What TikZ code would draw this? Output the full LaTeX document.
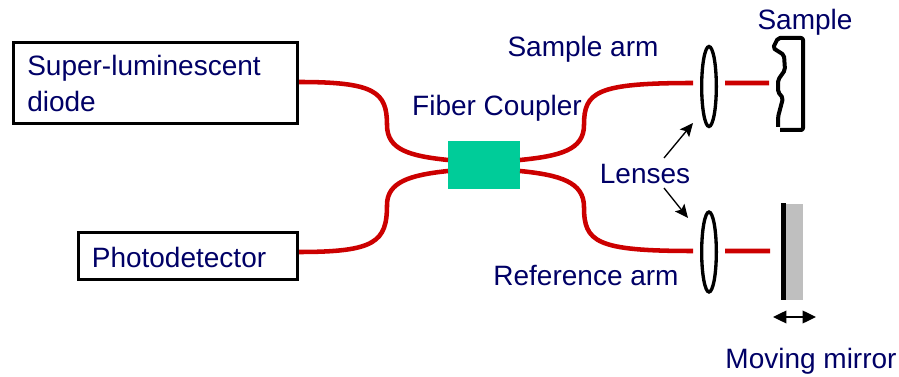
\documentclass[tikz,border=0pt]{standalone}
\usepackage{fontspec}
\setmainfont{Liberation Sans}
\usetikzlibrary{arrows.meta}
\usetikzlibrary{shapes.geometric}

\definecolor{labelblue}{RGB}{0,0,102}
\definecolor{fiberred}{RGB}{204,0,0}
\definecolor{couplergreen}{RGB}{0,204,153}

\tikzset{
  label text/.style={text=labelblue,font=\fontsize{21}{25}\selectfont,inner sep=0pt},
  device/.style={draw,line width=2.6pt,rectangle,inner sep=0pt},
  lens/.style={draw,line width=2.5pt,ellipse,minimum width=11pt,minimum height=60pt,inner sep=0pt},
  fiber/.style={draw=fiberred,line width=3.4pt},
  pointer/.style={draw,line width=1pt,-{Stealth[length=10pt,width=9pt,inset=2pt]}},
  travel/.style={draw,line width=1pt,{Stealth[length=10pt,width=9.5pt,inset=0pt]}-{Stealth[length=10pt,width=9.5pt,inset=0pt]}}
}

\begin{document}
\begin{tikzpicture}[x=0.75pt,y=-0.75pt]

  \useasboundingbox (0,0) rectangle (899,377);

  \node [device,minimum width=213pt,minimum height=61pt] (SLD) at (155.5,83) {};
  \node [device,minimum width=164pt,minimum height=35pt] (PD) at (188,256) {};
  \node [fill=couplergreen,minimum width=54pt,minimum height=36pt,inner sep=0pt] (FC) at (484,165) {};
  \node [lens] (lens_s) at (709,86.5) {};
  \node [lens] (lens_r) at (709,252) {};

  \node [label text,anchor=west] (SLD_1) at (27,68) {Super-luminescent};
  \node [label text,anchor=west] (SLD_2) at (27,101) {diode};
  \node [label text] (PD_label) at (179,257) {Photodetector};
  \node [label text] (FC_label) at (497,108) {Fiber Coupler};
  \node [label text] (S_arm) at (583,49) {Sample arm};
  \node [label text] (R_arm) at (586,276) {Reference arm};
  \node [label text] (S_label) at (805,22) {Sample};
  \node [label text] (L_label) at (645,174) {Lenses};
  \node [label text] (M_label) at (811,361) {Moving mirror};

  \coordinate (FC_lt) at (448,160);
  \coordinate (FC_lb) at (448,171);
  \coordinate (FC_rt) at (520,160);
  \coordinate (FC_rb) at (520,171);
  \coordinate (S_in) at (693,83);
  \coordinate (R_in) at (693,251);
  \coordinate (S_out) at (725,83);
  \coordinate (R_out) at (725,251);
  \coordinate (S_end) at (769,83);
  \coordinate (R_end) at (770,251);
  \coordinate (M_left) at (773,317);
  \coordinate (M_right) at (816,317);
  \coordinate (L_top) at (664,158);
  \coordinate (L_bot) at (664,188);
  \coordinate (tip_s) at (693,123);
  \coordinate (tip_r) at (688,218);

  \path [fiber]
    (SLD.east |- 0,82) .. controls (375,82) and (387,92) .. (387,125)
      .. controls (387,150) and (410,156) .. (FC_lt)
    (PD.east |- 0,252) .. controls (375,252) and (387,242) .. (387,205)
      .. controls (387,182) and (410,175) .. (FC_lb)
    (FC_rt) .. controls (560,156) and (584,150) .. (584,125)
      .. controls (584,92) and (596,83) .. (S_in)
    (FC_rb) .. controls (560,175) and (584,182) .. (584,207)
      .. controls (584,242) and (596,251) .. (R_in)
    (S_out) -- (S_end)
    (R_out) -- (R_end);

  \draw [line width=3pt,line join=round,rounded corners=1.5pt]
    (780,130) -- (803,130) -- (803,38) -- (778,38) -- (773,48) -- (784,55)
    -- (785,70) -- (778,80) -- (778,92) -- (783,98) -- (778,117) -- (778,127);

  \node [fill=gray!50,minimum width=12.75pt,minimum height=72pt,inner sep=0pt] (mirror_back) at (794.5,252) {};
  \node [fill=black,minimum width=3.75pt,minimum height=73pt,inner sep=0pt] (mirror) at (783.5,251.5) {};

  \path [pointer] (L_top) -- (tip_s);
  \path [pointer] (L_bot) -- (tip_r);
  \path [travel] (M_left) -- (M_right);

\end{tikzpicture}
\end{document}
